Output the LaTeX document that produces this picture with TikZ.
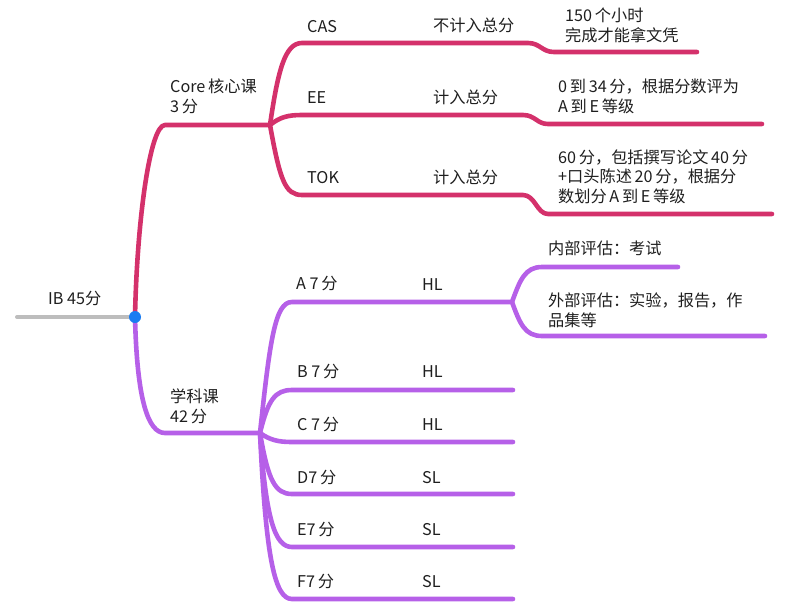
\documentclass[tikz,border=0pt]{standalone}
\usepackage{fontspec}
\setmainfont{Noto Sans CJK SC}
\definecolor{corec}{HTML}{D4316B}
\definecolor{subc}{HTML}{B660E8}
\definecolor{dotc}{HTML}{1A7CF2}
\definecolor{rootc}{HTML}{BDBDBD}
\definecolor{txtc}{HTML}{1E1E1E}
\begin{document}
\begin{tikzpicture}[x=1pt,y=-1pt,
  txt/.style={anchor=base west, inner sep=0pt, font=\fontsize{16.2}{19.5}\selectfont, text=txtc, align=left},
  corel/.style={draw=corec, line width=4.6pt, line cap=round, line join=round},
  subl/.style={draw=subc, line width=4.6pt, line cap=round, line join=round},
  rootl/.style={draw=rootc, line width=4pt, line cap=round},
  dotn/.style={circle, fill=dotc, inner sep=0pt, minimum size=12pt}]
\useasboundingbox (0,0) rectangle (798,608);
% coordinates
\coordinate (rs) at (17,317);
\coordinate (root) at (135,317);
\coordinate (coreh) at (165,125);
\coordinate (corej) at (270,125);
\coordinate (casA) at (302,43);
\coordinate (casB) at (528,43);
\coordinate (casC) at (554,52);
\coordinate (casD) at (697,52);
\coordinate (eeA) at (302,115);
\coordinate (eeB) at (523,115);
\coordinate (eeC) at (548,124);
\coordinate (eeD) at (762,124);
\coordinate (tokA) at (302,195);
\coordinate (tokB) at (523,195);
\coordinate (tokC) at (548,214);
\coordinate (tokD) at (772,214);
\coordinate (subh) at (165,433);
\coordinate (subj) at (260,433);
\coordinate (aA) at (292,302);
\coordinate (aJ) at (512,302);
\coordinate (inA) at (542,267);
\coordinate (inB) at (678,267);
\coordinate (exA) at (542,336);
\coordinate (exB) at (765,336);
\coordinate (bA) at (292,390);
\coordinate (bB) at (513,390);
\coordinate (cA) at (292,442);
\coordinate (cB) at (513,442);
\coordinate (dA) at (292,494);
\coordinate (dB) at (513,494);
\coordinate (eA) at (292,547);
\coordinate (eB) at (513,547);
\coordinate (fA) at (292,599);
\coordinate (fB) at (513,599);
% root
\draw[rootl] (rs) -- (root);
% core
\draw[corel] (root) .. controls (137,220) and (150,125) .. (coreh) -- (corej);
\draw[corel] (corej) .. controls (278,70) and (285,43) .. (casA) -- (casB) .. controls (540,43) and (542,52) .. (casC) -- (casD);
\draw[corel] (corej) .. controls (280,117) and (288,115) .. (eeA) -- (eeB) .. controls (535,115) and (537,124) .. (eeC) -- (eeD);
\draw[corel] (corej) .. controls (280,180) and (285,195) .. (tokA) -- (tokB) .. controls (535,195) and (537,214) .. (tokC) -- (tokD);
% subjects
\draw[subl] (root) .. controls (137,400) and (148,433) .. (subh) -- (subj);
\draw[subl] (subj) .. controls (270,340) and (275,302) .. (aA) -- (aJ);
\draw[subl] (aJ) .. controls (520,280) and (525,267) .. (inA) -- (inB);
\draw[subl] (aJ) .. controls (520,324) and (525,336) .. (exA) -- (exB);
\draw[subl] (subj) .. controls (268,400) and (275,390) .. (bA) -- (bB);
\draw[subl] (subj) .. controls (270,440) and (278,442) .. (cA) -- (cB);
\draw[subl] (subj) .. controls (268,480) and (275,494) .. (dA) -- (dB);
\draw[subl] (subj) .. controls (266,520) and (275,547) .. (eA) -- (eB);
\draw[subl] (subj) .. controls (266,560) and (275,599) .. (fA) -- (fB);
\node[dotn] (dot) at (root) {};
% texts (multi-line: base = last line)
\node[txt] (ib) at (48,304) {IB 45分};
\node[txt] (core) at (170,112) {Core\,核心课\\3\,分};
\node[txt] (sub) at (170,422) {学科课\\42\,分};
\node[txt] (cas) at (307,32) {CAS};
\node[txt] (ee) at (307,103) {EE};
\node[txt] (tok) at (307,183) {TOK};
\node[txt] (casn) at (433,31) {不计入总分};
\node[txt] (een) at (433,103) {计入总分};
\node[txt] (tokn) at (433,183) {计入总分};
\node[txt] (casd) at (565,41) {150\,个小时\\完成才能拿文凭};
\node[txt] (eed) at (558,112) {0\,到\,34\,分，根据分数评为\\A\,到\,E\,等级};
\node[txt] (tokd) at (558,202) {60\,分，包括撰写论文\,40\,分\\+口头陈述\,20\,分，根据分\\数划分\,A\,到\,E\,等级};
\node[txt] (at) at (296,289) {A 7\,分};
\node[txt] (ahl) at (422,290) {HL};
\node[txt] (in) at (548,254) {内部评估：考试};
\node[txt] (ex) at (548,326) {外部评估：实验，报告，作\\品集等};
\node[txt] (bt) at (297,377) {B 7\,分};
\node[txt] (bhl) at (422,377) {HL};
\node[txt] (ct) at (297,430) {C 7\,分};
\node[txt] (chl) at (422,430) {HL};
\node[txt] (dt) at (297,483) {D7\,分};
\node[txt] (dsl) at (422,483) {SL};
\node[txt] (et) at (297,535) {E7\,分};
\node[txt] (esl) at (422,535) {SL};
\node[txt] (ft) at (297,587) {F7\,分};
\node[txt] (fsl) at (422,587) {SL};
\end{tikzpicture}
\end{document}
